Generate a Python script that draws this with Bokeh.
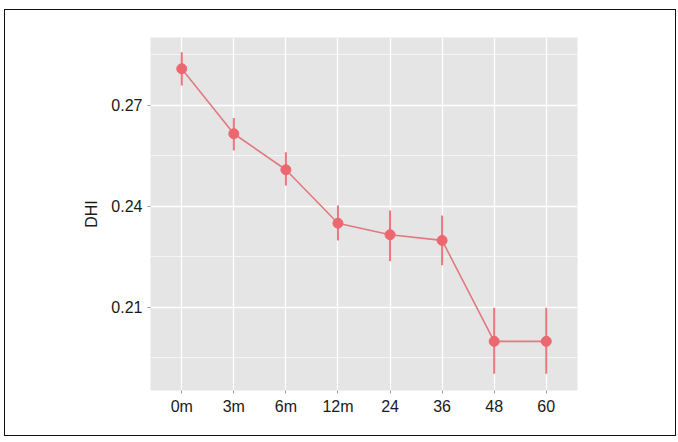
from bokeh.plotting import figure
from bokeh.models import FactorRange, Range1d, FixedTicker
from bokeh.embed import file_html
from bokeh.resources import INLINE

categories = ["0m", "3m", "6m", "12m", "24", "36", "48", "60"]
dhi_mean = [0.2809, 0.2616, 0.2509, 0.2350, 0.2316, 0.2299, 0.1999, 0.1999]
dhi_upper = [0.2858, 0.2663, 0.2561, 0.2403, 0.2388, 0.2373, 0.2099, 0.2099]
dhi_lower = [0.2759, 0.2566, 0.2462, 0.2299, 0.2237, 0.2225, 0.1903, 0.1903]
y_ticks = [0.21, 0.24, 0.27]
y_minor = [0.195, 0.225, 0.255, 0.285]

FONT = "Liberation Sans"
RED = "#EC6870"

p = figure(
    x_range=FactorRange(factors=categories, range_padding=0.1, range_padding_units="absolute"),
    y_range=Range1d(0.1853, 0.2902),
    width=672, height=427,
    output_backend="svg", toolbar_location=None,
    min_border_left=145, min_border_right=100, min_border_top=27, min_border_bottom=47,
)
p.styles = {"border": "1.5px solid #111", "box-sizing": "border-box",
            "margin-left": "4px", "margin-top": "9px"}

p.background_fill_color = "#E5E5E5"
p.border_fill_color = "white"
p.outline_line_color = None

p.xgrid.grid_line_color = "white"
p.xgrid.grid_line_width = 1.3
p.ygrid.grid_line_color = "white"
p.ygrid.grid_line_width = 1.3
p.ygrid.minor_grid_line_color = "white"
p.ygrid.minor_grid_line_width = 0.6

p.yaxis.ticker = FixedTicker(ticks=y_ticks, minor_ticks=y_minor)
p.yaxis.axis_label = "DHI"

for ax in (p.xaxis[0], p.yaxis[0]):
    ax.axis_line_color = None
    ax.major_tick_line_color = "#999999"
    ax.major_tick_out = 3
    ax.major_tick_in = 0
    ax.minor_tick_line_color = None
    ax.major_label_text_font = FONT
    ax.major_label_text_font_size = "16px"
    ax.major_label_text_color = "#1a1a1a"
    ax.major_label_standoff = 4
    ax.axis_label_text_font = FONT
    ax.axis_label_text_font_size = "16px"
    ax.axis_label_text_font_style = "normal"
    ax.axis_label_text_color = "#1a1a1a"
p.yaxis.axis_label_standoff = 8

p.segment(x0=categories, y0=dhi_lower, x1=categories, y1=dhi_upper,
          line_color=RED, line_width=2, line_alpha=0.9)
p.line(x=categories, y=dhi_mean, line_color="#E07A80", line_width=1.6)
p.scatter(x=categories, y=dhi_mean, size=10, fill_color=RED, line_color=RED)

open("out.html", "w").write(file_html(p, INLINE))
